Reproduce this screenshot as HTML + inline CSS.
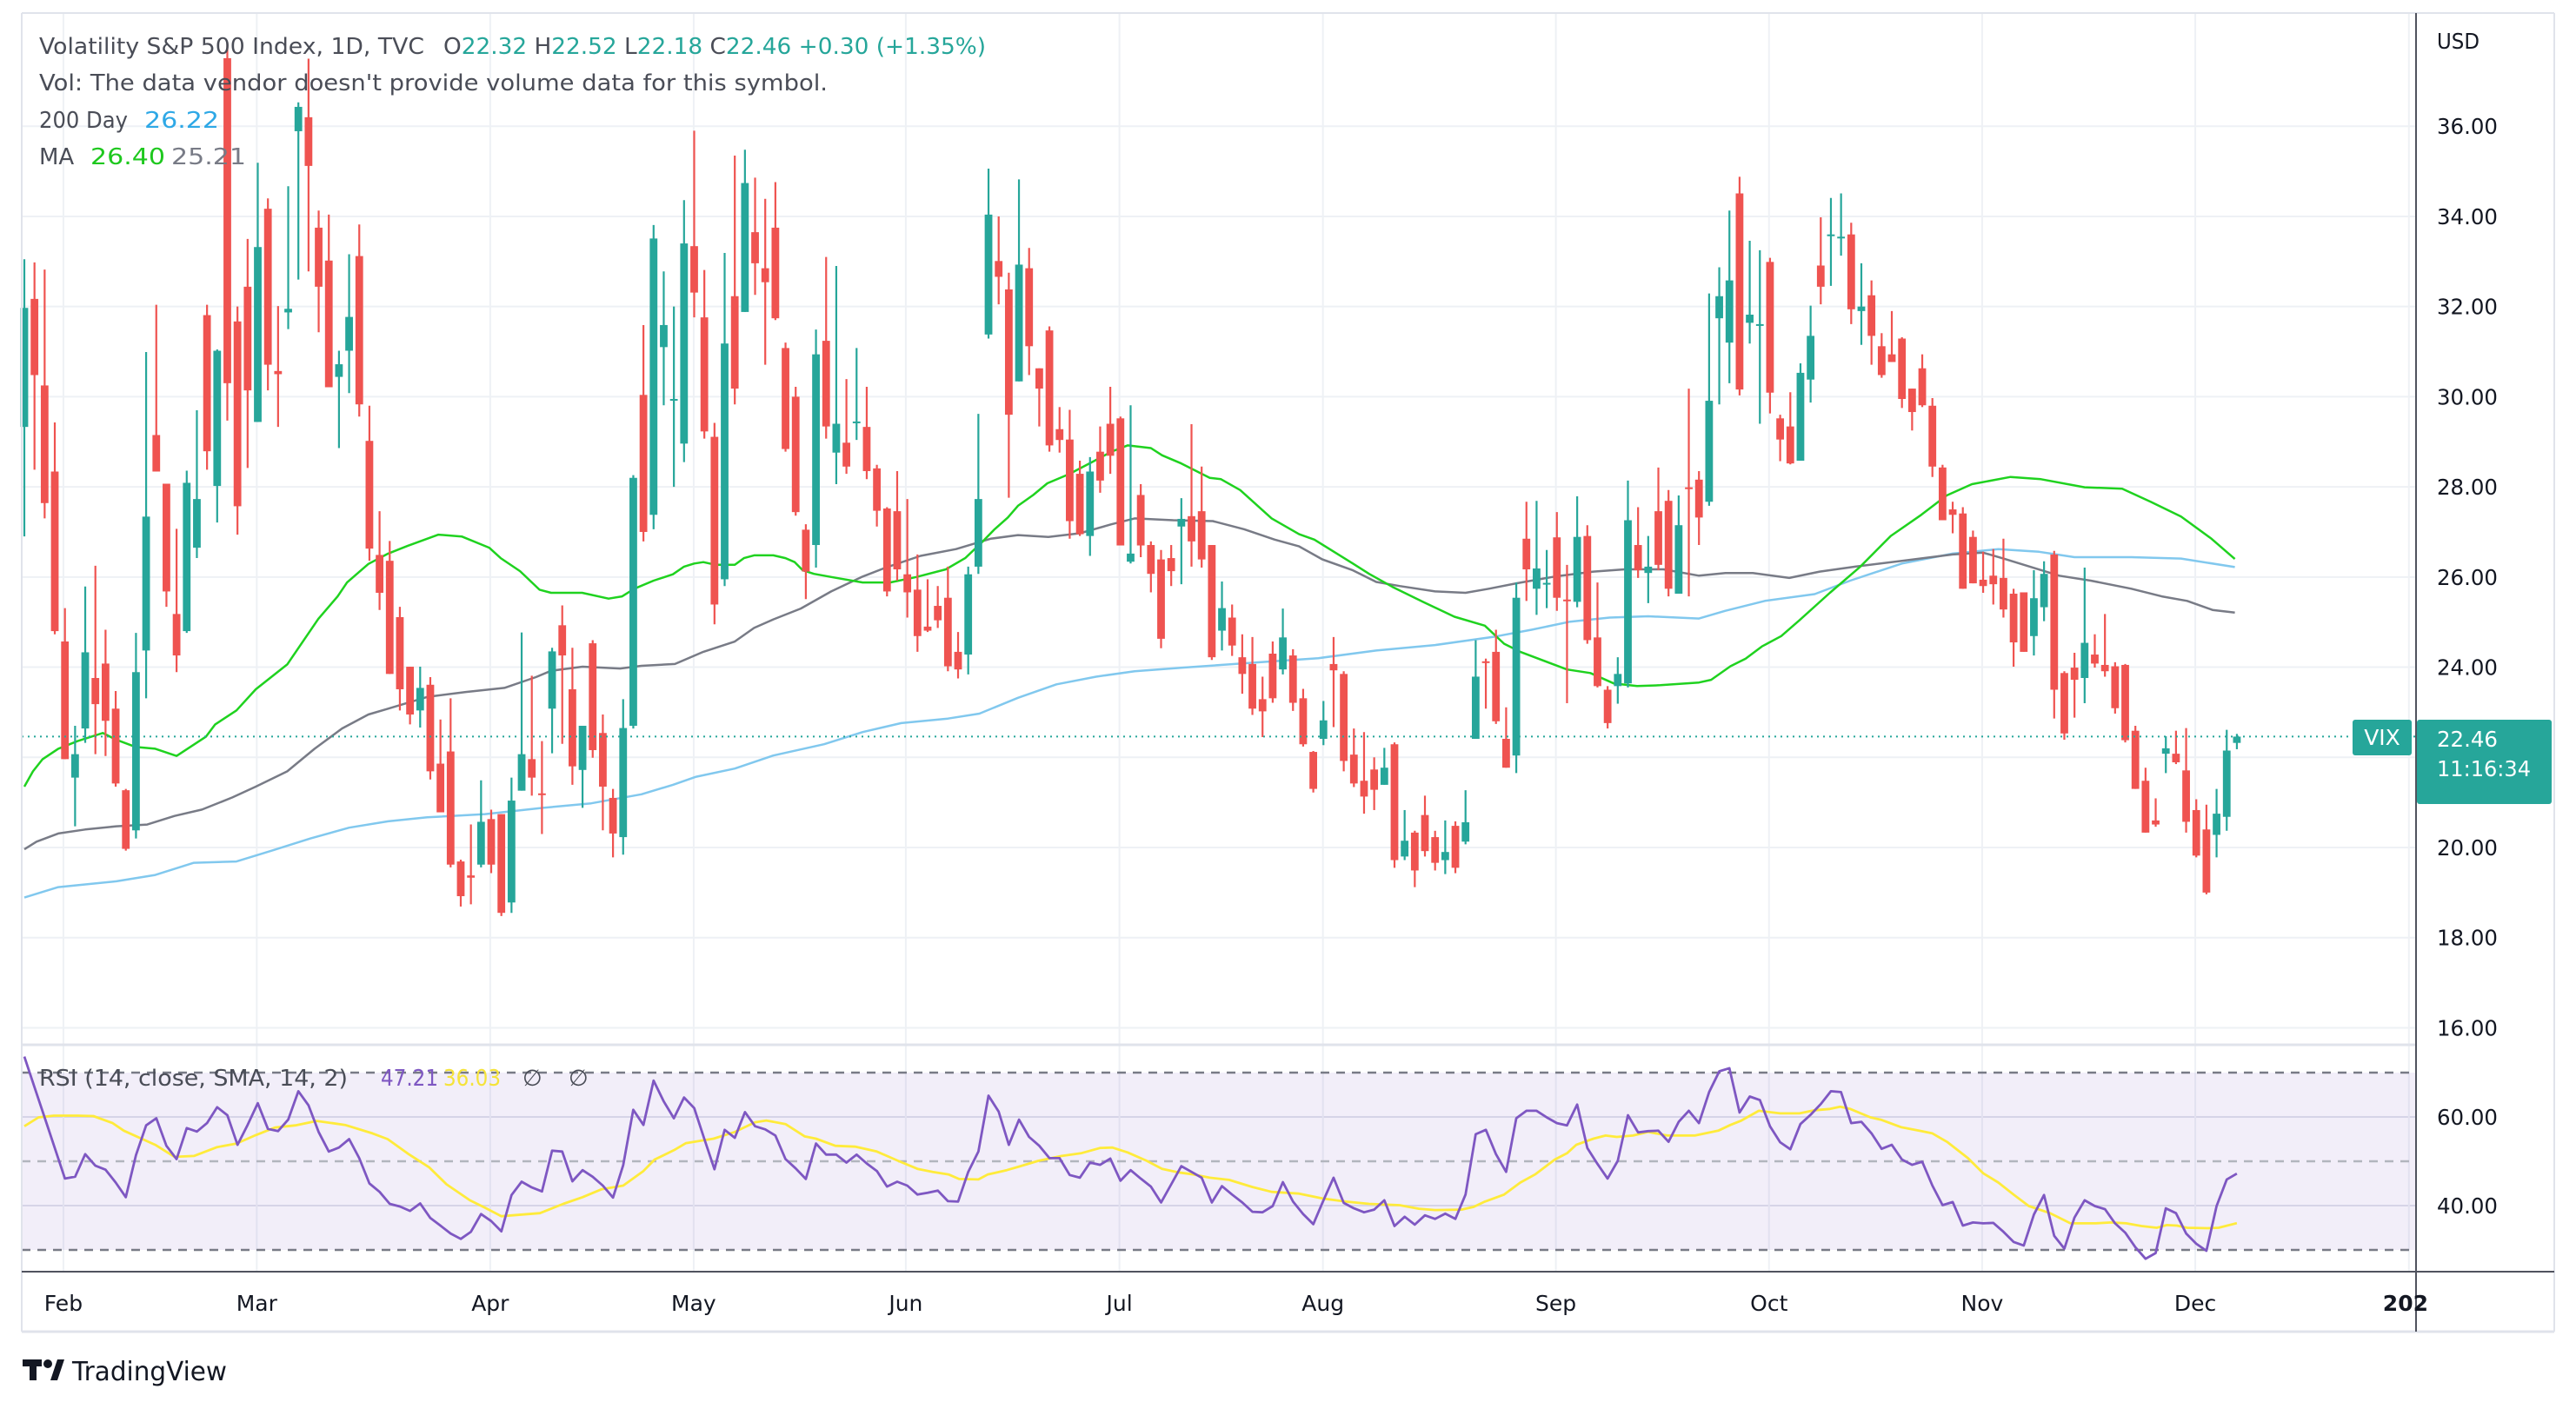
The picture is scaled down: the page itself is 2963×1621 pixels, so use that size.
<!DOCTYPE html>
<html><head><meta charset="utf-8"><title>VIX chart</title>
<style>
html,body{margin:0;padding:0;background:#fff;}
svg{display:block;font-family:"DejaVu Sans","Liberation Sans",sans-serif;}
</style></head>
<body>
<svg id="chart" width="2963" height="1621" viewBox="0 0 2963 1621" xmlns="http://www.w3.org/2000/svg">
<rect x="0" y="0" width="2963" height="1621" fill="#ffffff"/>
<g id="grid"></g>
<rect x="25" y="1234" width="2753" height="204" fill="#7e57c2" fill-opacity="0.1"/>
<g id="rsiGuides"></g>
<g id="mas"></g>
<g id="candles"></g>
<g id="rsi"></g>
<line id="lastLine" x1="25" x2="2778" stroke="#26a69a" stroke-width="2" stroke-dasharray="2 5"/>
<line x1="25" y1="15" x2="2938" y2="15" stroke="#e0e3eb" stroke-width="2"/>
<line x1="25" y1="15" x2="25" y2="1532" stroke="#e0e3eb" stroke-width="2"/>
<line x1="2938" y1="15" x2="2938" y2="1532" stroke="#e0e3eb" stroke-width="2"/>
<line x1="25" y1="1532" x2="2938" y2="1532" stroke="#e0e3eb" stroke-width="3"/>
<line x1="25" y1="1202" x2="2778" y2="1202" stroke="#e0e3eb" stroke-width="3"/>
<line x1="2779" y1="15" x2="2779" y2="1532" stroke="#50535e" stroke-width="2"/>
<line x1="25" y1="1463" x2="2938" y2="1463" stroke="#50535e" stroke-width="2"/>
<g id="axisLabels" font-size="25" fill="#131722"></g>
<text x="2803" y="56" font-size="25" fill="#131722" textLength="49" lengthAdjust="spacingAndGlyphs">USD</text>
<g font-size="26">
<text x="45" y="62" fill="#4a4d57" textLength="443" lengthAdjust="spacingAndGlyphs">Volatility S&amp;P 500 Index, 1D, TVC</text>
<text x="510" y="62" fill="#4a4d57" textLength="624" lengthAdjust="spacingAndGlyphs">O<tspan fill="#26a69a">22.32</tspan> H<tspan fill="#26a69a">22.52</tspan> L<tspan fill="#26a69a">22.18</tspan> C<tspan fill="#26a69a">22.46</tspan> <tspan fill="#26a69a">+0.30 (+1.35%)</tspan></text>
<text x="45" y="104" fill="#4a4d57" textLength="907" lengthAdjust="spacingAndGlyphs">Vol: The data vendor doesn't provide volume data for this symbol.</text>
<text x="45" y="147" fill="#4a4d57" textLength="102" lengthAdjust="spacingAndGlyphs">200 Day</text>
<text x="166" y="147" fill="#2ea8e6" textLength="86" lengthAdjust="spacingAndGlyphs">26.22</text>
<text x="45" y="189" fill="#4a4d57">MA</text>
<text x="104" y="189" fill="#1ec81e" textLength="86" lengthAdjust="spacingAndGlyphs">26.40</text>
<text x="197" y="189" fill="#787b86" textLength="86" lengthAdjust="spacingAndGlyphs">25.21</text>
<text x="45" y="1249" fill="#4a4d57" textLength="355" lengthAdjust="spacingAndGlyphs">RSI (14, close, SMA, 14, 2)</text>
<text x="438" y="1249" fill="#7e57c2" textLength="66" lengthAdjust="spacingAndGlyphs">47.21</text>
<text x="510" y="1249" fill="#f5e33a" textLength="66" lengthAdjust="spacingAndGlyphs">36.03</text>
<text x="601" y="1249" fill="#4a4d57">∅</text>
<text x="654" y="1249" fill="#4a4d57">∅</text>
</g>
<rect x="2706" y="828" width="68" height="41" rx="3" fill="#26a69a"/>
<text x="2740" y="857" font-size="25" fill="#fff" text-anchor="middle">VIX</text>
<rect x="2780" y="828" width="155" height="97" rx="3" fill="#26a69a"/>
<text x="2803" y="859" font-size="25" fill="#fff" textLength="70" lengthAdjust="spacingAndGlyphs">22.46</text>
<text x="2803" y="893" font-size="25" fill="#fff" textLength="108" lengthAdjust="spacingAndGlyphs">11:16:34</text>
<g>
<rect x="26" y="1564" width="22" height="8" fill="#131722"/>
<rect x="34" y="1564" width="8" height="24" fill="#131722"/>
<circle cx="55" cy="1569" r="5" fill="#131722"/>
<polygon points="58,1588 66,1564 74,1564 66,1588" fill="#131722"/>
<text x="83" y="1588" font-size="30" fill="#131722" textLength="178" lengthAdjust="spacingAndGlyphs">TradingView</text>
</g>
</svg>
<script>
const openV=[29.33,32.17,30.25,28.34,24.57,21.55,22.64,23.76,24.08,23.08,21.27,20.38,24.37,29.15,28.07,25.18,24.80,26.65,31.81,28.02,37.51,31.67,32.44,29.44,34.17,30.57,31.87,35.89,36.2,33.75,33.02,30.44,31.02,33.12,29.02,26.49,26.36,25.11,24.01,23.04,23.61,21.86,22.13,19.69,19.38,19.62,20.63,20.74,18.78,21.26,21.96,21.2,23.08,24.93,23.51,21.72,24.53,22.54,21.10,20.23,22.70,30.04,27.38,31.1,29.93,28.96,33.34,31.76,29.11,25.95,32.23,31.88,33.65,32.85,33.75,31.08,30.0,27.05,26.71,31.24,28.76,28.98,29.45,29.33,28.41,27.52,27.46,26.06,25.72,24.9,25.36,25.54,24.34,24.28,26.23,31.38,33.01,32.38,30.34,32.85,30.63,31.47,29.28,29.05,28.29,26.91,28.78,29.4,29.52,26.34,27.82,26.71,26.39,26.42,27.12,27.35,27.46,26.71,24.81,25.1,24.22,24.07,23.29,24.3,23.95,24.26,23.31,22.12,22.41,24.07,23.85,22.06,21.48,21.73,21.39,22.29,19.8,20.33,20.72,20.23,19.72,20.48,20.13,22.41,24.13,24.34,22.41,22.04,26.85,25.74,25.85,26.88,25.5,25.45,26.91,24.66,23.5,23.58,23.64,26.71,26.09,27.46,27.69,25.63,27.99,28.16,27.67,31.74,31.20,34.51,31.64,31.6,32.99,29.52,29.34,28.58,30.38,32.91,33.58,33.55,33.6,31.9,32.25,31.12,30.94,31.29,30.18,30.63,29.8,28.43,27.5,27.41,26.89,25.94,26.03,25.98,25.63,25.66,24.69,25.33,26.5,23.87,23.99,23.76,24.28,24.05,24.02,24.05,22.59,21.48,20.6,22.08,22.08,21.71,20.83,20.4,20.28,20.68,22.32];
const closeV=[31.97,30.48,27.64,24.80,21.96,22.07,24.33,23.18,22.81,21.42,19.97,23.89,27.34,28.34,25.68,24.26,28.09,27.73,28.79,31.02,30.30,27.57,30.14,33.32,30.71,30.50,31.95,36.43,35.12,32.44,30.21,30.72,31.77,29.83,26.63,25.65,23.85,23.51,22.95,23.54,21.69,20.78,19.62,18.92,19.33,20.57,19.62,18.55,21.04,22.07,21.55,21.18,24.35,24.26,21.80,22.70,22.16,21.35,20.31,22.65,28.20,27.0,33.51,31.59,29.95,33.4,32.31,29.23,25.39,31.18,30.18,34.74,32.96,32.54,31.74,28.84,27.44,26.12,30.94,29.34,29.40,28.45,29.45,28.35,27.47,25.68,26.17,25.66,24.69,24.81,25.04,24.02,23.95,26.06,27.73,34.04,32.66,29.6,32.93,31.12,30.18,28.92,29.04,27.24,26.95,28.34,28.14,28.69,26.70,26.52,26.70,26.07,24.63,26.13,27.29,26.79,26.39,24.22,25.31,24.48,23.85,23.08,23.02,23.31,24.66,23.21,22.29,21.30,22.82,23.93,21.92,21.42,21.13,21.28,21.77,19.72,20.15,19.49,19.92,19.66,19.9,19.55,20.56,23.79,24.1,22.80,21.77,25.54,26.17,26.19,25.87,25.54,25.47,26.89,24.6,23.58,22.76,23.85,27.26,26.15,26.23,26.27,25.74,27.15,27.95,27.32,29.91,32.23,32.58,30.16,31.82,31.61,30.09,29.05,28.52,30.53,31.35,32.44,33.6,33.55,31.94,32.0,31.35,30.48,30.77,29.95,29.66,29.81,28.45,27.26,27.38,25.74,25.86,25.8,25.84,25.28,24.55,24.34,25.53,26.07,23.5,22.53,23.72,24.54,24.08,23.91,23.09,22.38,21.3,20.33,20.51,22.2,21.89,20.57,19.82,19.0,20.75,22.15,22.46];
const highV=[33.05,32.98,32.82,29.43,25.31,22.7,25.79,26.25,24.83,23.47,21.3,24.76,30.99,32.04,28.07,27.07,28.36,29.70,32.04,31.05,37.83,32.0,33.50,35.19,34.40,32.01,34.67,36.53,37.5,34.13,34.04,31.02,33.16,33.82,29.80,27.46,26.80,25.34,24.01,24.01,23.78,22.84,23.31,19.73,20.51,21.49,20.84,20.74,21.55,24.77,23.81,22.36,24.43,25.37,24.43,22.70,24.60,22.95,21.30,23.29,28.26,31.59,33.81,32.78,32.0,34.36,35.9,32.81,29.42,33.19,35.35,35.48,34.86,34.39,34.76,31.2,30.22,27.17,31.49,33.1,32.9,30.39,31.08,30.22,28.49,27.55,28.35,27.73,26.5,25.95,25.8,26.23,24.78,26.23,29.62,35.06,34.0,32.75,34.82,33.30,30.63,31.56,29.77,29.71,28.58,28.66,29.34,30.22,29.56,29.81,28.06,26.79,26.6,26.71,27.75,29.39,28.45,26.71,25.9,25.39,24.73,24.67,23.79,24.57,25.3,24.4,23.52,22.14,23.25,24.67,23.91,22.64,22.56,22.0,22.21,22.33,20.83,20.37,21.15,20.37,20.6,20.58,21.27,24.6,24.19,24.83,23.11,25.88,27.67,27.69,26.6,27.44,26.27,27.79,27.15,25.88,23.58,24.22,28.14,27.55,26.91,28.43,27.93,27.81,30.18,28.35,32.29,32.87,34.13,34.88,33.46,33.25,33.08,29.6,30.1,30.74,32.02,33.98,34.41,34.51,33.86,32.96,32.58,31.41,31.9,31.32,30.18,30.94,29.97,28.49,27.67,27.55,27.03,26.56,26.62,26.85,25.74,25.66,26.15,26.35,26.58,23.91,24.32,26.21,24.73,25.18,24.11,24.07,22.7,21.77,21.09,22.47,22.59,22.65,21.07,20.95,21.3,22.61,22.52];
const lowV=[26.9,28.38,27.3,24.73,21.96,20.47,22.32,22.07,22.03,21.35,19.93,20.2,23.31,28.34,25.34,23.89,24.76,26.42,28.38,27.21,29.47,26.94,28.42,29.44,30.14,29.33,31.5,32.6,32.78,31.43,30.21,28.86,30.08,29.56,26.36,25.27,23.85,23.04,22.73,22.66,21.51,20.78,19.56,18.69,18.74,19.56,19.43,18.48,18.55,21.26,21.15,20.3,22.09,22.30,21.39,20.88,21.99,20.38,19.78,19.84,22.64,26.79,27.06,29.81,28.0,28.55,31.76,29.07,24.95,25.8,29.83,31.88,32.26,30.71,31.70,28.78,27.36,25.51,26.21,29.07,28.06,28.29,29.04,28.17,27.12,25.57,25.92,25.1,24.34,24.78,24.87,23.91,23.75,23.84,26.07,31.29,32.05,27.76,30.34,30.48,29.34,28.78,28.76,26.85,26.91,26.47,27.87,28.29,26.70,26.30,26.44,25.66,24.42,25.8,25.84,26.23,26.21,24.16,24.37,24.25,23.41,22.94,22.45,23.21,23.84,23.03,22.24,21.22,22.27,22.67,21.69,21.34,20.75,20.83,21.39,19.55,19.72,19.12,19.8,19.49,19.41,19.43,20.07,22.41,23.08,22.74,21.77,21.65,25.47,25.16,25.31,25.25,23.2,25.33,24.52,23.55,22.64,23.19,23.55,25.98,25.42,26.15,25.57,25.63,25.57,26.71,27.58,29.83,30.30,30.03,31.18,29.4,29.63,28.57,28.5,28.58,29.87,32.05,32.46,33.13,31.61,31.15,30.71,30.42,30.77,29.75,29.25,29.77,28.22,27.26,26.97,25.74,25.86,25.65,25.39,25.1,24.01,24.34,24.26,25.02,22.86,22.39,22.88,23.2,23.99,23.79,22.97,22.33,21.3,20.33,20.46,21.65,21.85,20.33,19.78,18.96,19.78,20.37,22.18];
const rsiV=[73.6,66.7,59.9,53.0,46.1,46.5,51.6,49.0,48.1,45.2,41.9,51.4,58.1,59.7,53.5,50.5,57.5,56.7,58.6,62.2,60.4,53.7,58.2,63.1,57.3,56.8,59.4,65.8,62.6,56.6,52.2,53.1,55.0,50.7,45.0,43.1,40.4,39.8,38.8,40.5,37.2,35.5,33.7,32.5,34.1,38.1,36.5,34.2,42.4,45.4,44.1,43.2,52.4,52.2,45.5,48.0,46.5,44.5,41.8,49.1,61.6,58.2,68.2,63.5,59.7,64.4,62.0,55.0,48.2,57.1,55.3,61.1,57.9,57.2,55.8,50.5,48.4,46.0,54.0,51.5,51.5,49.7,51.5,49.5,47.8,44.3,45.4,44.5,42.5,42.9,43.4,41.0,40.9,47.6,52.2,64.8,61.2,53.7,59.4,55.5,53.5,50.7,50.7,46.9,46.3,49.7,49.2,50.6,45.6,48.0,46.1,44.3,40.7,44.8,48.9,47.6,46.3,40.7,44.4,42.5,40.7,38.6,38.5,39.9,45.3,40.9,38.1,35.8,41.2,46.3,40.6,39.4,38.5,39.1,41.2,35.4,37.5,35.7,37.8,37.0,38.2,37.0,42.5,56.1,57.1,51.6,47.6,59.7,61.4,61.4,59.9,58.6,58.1,62.8,53.0,49.4,46.1,50.1,60.4,56.5,56.8,56.9,54.4,58.9,61.4,58.6,65.6,70.3,71.0,61.0,64.6,63.8,57.9,54.3,52.7,58.4,60.5,62.9,65.8,65.6,58.6,58.9,56.3,52.8,53.7,50.4,49.2,49.9,44.5,40.1,40.8,35.5,36.2,36.0,36.1,34.1,31.8,31.0,38.0,42.4,33.2,30.3,37.3,41.2,39.9,39.2,36.0,33.9,30.6,28.0,29.3,39.4,38.3,33.7,31.4,29.8,39.9,45.9,47.21];
const rsiSmaIdx=[0,1.4,2.9,5.25,6.8,8.7,9.8,12.9,14.8,16.7,19,20.9,22.8,24.7,26.7,28.8,31.6,34.3,35.8,37.8,39.9,41.6,43.9,45.4,47,50.8,53.1,55,56.9,59,61,62.1,64,65.2,67.9,70,72,73.1,75,76.9,78,79.9,81.9,84,86.1,88,89.5,91.1,92.1,94,94.9,96.8,98,99.9,102.2,104.1,106,107.2,108.7,110.6,112.1,113.7,115,116.8,118.7,121,122.9,125.6,127.9,130.2,132.5,135.5,137.4,139,141.6,142.8,143.9,145.8,147.4,148.9,150.8,152,152.9,154.6,155.8,156.9,158.5,160,161.9,164.6,166.9,168.1,169.1,170.9,173,174.9,176.4,177.9,178.9,179.9,181.9,182.9,184.9,186.9,188,189.5,191.5,193,194.5,196,197.5,199.6,201.6,204.1,205.6,207.1,208.6,210.1,211.1,212.1,213.1,215.1,216.2,218];
const rsiSmaV=[57.9,59.9,60.3,60.3,60.2,58.6,56.9,53.7,51.0,51.2,53.2,54.0,55.9,57.6,58.1,59.1,58.2,56.3,55.0,51.7,48.6,44.8,41.2,39.5,37.6,38.3,40.4,41.9,43.7,44.5,47.8,50.4,52.5,54.1,55.1,56.6,58.8,59.2,58.4,55.6,55.1,53.5,53.3,52.2,50.1,48.3,47.6,47.0,46.0,45.9,47.0,48.0,48.8,50.1,51.2,51.8,53.0,53.1,52.0,50.1,48.3,47.5,47.1,46.3,45.8,44.2,43.1,42.7,41.6,40.9,40.4,40.1,39.3,39.0,39.1,39.7,40.9,42.5,45.2,47.1,50.4,51.8,53.7,55.1,55.8,55.5,55.8,56.6,55.8,55.8,56.9,58.2,59.1,61.4,60.8,60.8,61.5,61.8,62.3,61.8,59.9,59.4,57.7,56.8,56.3,54.3,50.7,47.3,45.2,42.5,39.9,38.3,36.0,36.0,36.2,36.0,35.4,35.0,35.6,35.5,35.0,34.9,35.0,36.03];
const ma20Idx=[0,0.85,1.8,3.34,5.25,7.73,9.07,10.98,12.9,15,17.9,18.8,20.9,22.8,25.9,28.96,30.87,31.8,33.9,35.84,37.75,40.8,43.1,45.8,46.93,48.84,50.75,51.9,54.96,57.56,58.9,60.1,62,63.9,65,66,66.9,68.1,70,70.9,71.9,73.8,75,75.9,76.7,77.8,79.5,82.6,85.3,87.9,90.8,92.7,94.3,95.6,96.9,97.9,99.4,100.8,102.9,105.2,107.1,108.7,111,112.1,114,116.8,117.9,119.8,122.9,125.6,127.1,130.9,132.5,134.8,137.8,140.9,143.9,145.8,147.4,152,154.3,156.6,158.9,161.2,165,166.2,168.1,169.6,171.2,173.1,174.9,177.9,180.9,183.9,186.9,189.4,191.9,195.7,198.7,203,206.7,209.5,212.5,215.5,217.8];
const ma20V=[21.35,21.69,21.96,22.19,22.36,22.54,22.39,22.23,22.19,22.03,22.46,22.73,23.04,23.51,24.06,25.07,25.57,25.88,26.29,26.52,26.69,26.94,26.9,26.65,26.42,26.13,25.72,25.65,25.65,25.52,25.57,25.74,25.92,26.06,26.23,26.30,26.33,26.27,26.27,26.42,26.48,26.48,26.42,26.33,26.15,26.07,26.0,25.88,25.88,26.0,26.17,26.42,26.76,27.06,27.32,27.58,27.82,28.08,28.28,28.55,28.78,28.92,28.86,28.7,28.52,28.2,28.17,27.93,27.3,26.95,26.83,26.3,26.07,25.78,25.45,25.12,24.92,24.52,24.34,23.95,23.87,23.64,23.58,23.6,23.66,23.72,24.02,24.19,24.46,24.69,25.04,25.65,26.23,26.91,27.38,27.81,28.06,28.22,28.17,27.99,27.96,27.67,27.34,26.85,26.40];
const ma50Idx=[0,1.2,3.34,6,9.07,12.1,14.8,17.5,20.5,22.8,25.9,28.6,31.3,33.9,35.84,39.7,43.5,47.3,50.4,51.9,55,58.7,60.8,64.1,66.9,70,71.9,73.8,76.5,79.5,82.6,84.9,88.3,91.8,95.2,97.9,100.9,104,107.1,109.4,113.2,117.1,120.2,123.2,125.6,127.9,130.9,133.2,135.5,139,142,144.3,147,150.8,154.6,157.7,161.5,165,167.6,170.3,173.9,176.9,180.4,185,190,193,195,200.5,203.6,207.6,210.6,213.1,215.6,217.8];
const ma50V=[19.96,20.13,20.31,20.40,20.47,20.51,20.70,20.84,21.11,21.35,21.69,22.19,22.64,22.95,23.08,23.34,23.45,23.54,23.78,23.92,24.01,23.97,24.03,24.07,24.34,24.57,24.87,25.06,25.30,25.68,26.01,26.21,26.47,26.62,26.85,26.93,26.89,26.97,27.17,27.30,27.26,27.24,27.06,26.83,26.68,26.39,26.15,25.89,25.80,25.68,25.65,25.74,25.86,26.01,26.12,26.17,26.17,26.03,26.09,26.09,25.98,26.12,26.23,26.36,26.50,26.54,26.41,26.03,25.92,25.74,25.57,25.47,25.27,25.21];
const ma200Idx=[0,3.34,9.07,12.9,16.7,20.9,24.4,28.2,32,35.84,39.7,45.4,51.1,55.85,60.8,63.9,66.2,70,73.8,78.8,82.6,86.4,91,94.1,97.9,101.7,105.6,109.4,114.1,121.7,127.5,133.2,139,144.7,148.5,152.3,156.2,160,165,167.6,171.5,176.4,179.9,185,190,194.5,198.5,202,207.6,212.5,217.8];
const ma200V=[18.89,19.12,19.25,19.39,19.66,19.69,19.93,20.20,20.44,20.58,20.67,20.74,20.88,20.98,21.18,21.39,21.57,21.75,22.04,22.29,22.56,22.76,22.86,22.97,23.32,23.62,23.79,23.91,23.99,24.11,24.20,24.37,24.49,24.67,24.83,25.01,25.10,25.13,25.08,25.25,25.47,25.62,25.92,26.30,26.52,26.62,26.56,26.44,26.44,26.41,26.22];
const priceTicks=[16,18,20,22,24,26,28,30,32,34,36];
const priceTickLabels=["16.00","18.00","20.00","22.00","24.00","26.00","28.00","30.00","32.00","34.00","36.00"];
const rsiTicks=[40,60];
const rsiTickLabels=["40.00","60.00"];
const monthIdx=[3.85,22.9,45.9,65.95,86.85,107.9,127.95,150.9,171.9,192.9,213.9,234.95];
const monthLabels=["Feb","Mar","Apr","May","Jun","Jul","Aug","Sep","Oct","Nov","Dec","202"];
const lastPrice=22.46;

const NS="http://www.w3.org/2000/svg";
const X0=28, STEP=11.674;
function xOf(i){return X0+i*STEP;}
function yP(v){return 975-(v-20)*51.86;}
function yR(r){return 1285-(r-60)*5.1;}
function mk(tag,attrs,parent){const e=document.createElementNS(NS,tag);for(const k in attrs)e.setAttribute(k,attrs[k]);parent.appendChild(e);return e;}

const grid=document.getElementById('grid');
priceTicks.forEach((v,k)=>{
  const l=mk('line',{x1:25,x2:2778,y1:yP(v),y2:yP(v),stroke:'#eef1f5','stroke-width':2},grid);
  
  
});
rsiTicks.forEach(r=>{
  const l=mk('line',{x1:25,x2:2778,y1:yR(r),y2:yR(r),stroke:'#e0e3eb','stroke-width':2},grid);
  
  
});
monthIdx.forEach(i=>{
  const l=mk('line',{x1:xOf(i),x2:xOf(i),y1:15,y2:1463,stroke:'#eef1f5','stroke-width':2},grid);
  
  
});

const guides=document.getElementById('rsiGuides');
[[70,'#787b86'],[50,'#b2b5be'],[30,'#787b86']].forEach(([r,c])=>{
  const l=mk('line',{x1:25,x2:2778,y1:yR(r),y2:yR(r),stroke:c,'stroke-width':2.5,'stroke-dasharray':'10 8'},guides);
  
  
});

const mas=document.getElementById('mas');
function poly(idx,vals,yf,color,w,parent,name){
  const pts=idx.map((i,k)=>xOf(i).toFixed(1)+','+yf(vals[k]).toFixed(1)).join(' ');
  const p=mk('polyline',{points:pts,fill:'none',stroke:color,'stroke-width':w,'stroke-linejoin':'round'},parent);
  
  
  return p;
}
poly(ma200Idx,ma200V,yP,'#81c8ee',2.5,mas,'ma200-line');
poly(ma50Idx,ma50V,yP,'#787b86',2.5,mas,'ma50-line');
poly(ma20Idx,ma20V,yP,'#1fd21f',2.5,mas,'ma20-line');

const cg=document.getElementById('candles');
for(let i=0;i<closeV.length;i++){
  const up=closeV[i]>=openV[i];
  const col=up?'#26a69a':'#ef5350';
  const x=xOf(i);
  const w=mk('line',{x1:x,x2:x,y1:yP(highV[i]),y2:yP(lowV[i]),stroke:col,'stroke-width':2.2},cg);
  
  
  const top=yP(Math.max(openV[i],closeV[i])), bot=yP(Math.min(openV[i],closeV[i]));
  const b=mk('rect',{x:x-4.4,y:top,width:8.8,height:Math.max(2,bot-top),fill:col},cg);
  
  
}

const rg=document.getElementById('rsi');
poly(rsiSmaIdx,rsiSmaV,yR,'#ffeb3b',2.8,rg,'rsi-sma-line');
poly(rsiV.map((v,i)=>i),rsiV,yR,'#7e57c2',2.8,rg,'rsi-line');

const ll=document.getElementById('lastLine');
ll.setAttribute('y1',yP(lastPrice));ll.setAttribute('y2',yP(lastPrice));

const al=document.getElementById('axisLabels');
priceTicks.forEach((v,k)=>{
  const t=mk('text',{x:2803,y:yP(v)+9,textLength:70,lengthAdjust:'spacingAndGlyphs'},al);t.textContent=priceTickLabels[k];
  
  
});
rsiTicks.forEach((r,k)=>{
  const t=mk('text',{x:2803,y:yR(r)+9,textLength:70,lengthAdjust:'spacingAndGlyphs'},al);t.textContent=rsiTickLabels[k];
  
  
});
monthIdx.forEach((i,k)=>{
  const last=k===monthIdx.length-1;
  const t=mk('text',{x:last?xOf(i)-30:xOf(i),y:1508,'text-anchor':last?'start':'middle','font-weight':last?'bold':'normal'},al);
  t.textContent=monthLabels[k];
  
  
});
</script>
</body></html>
